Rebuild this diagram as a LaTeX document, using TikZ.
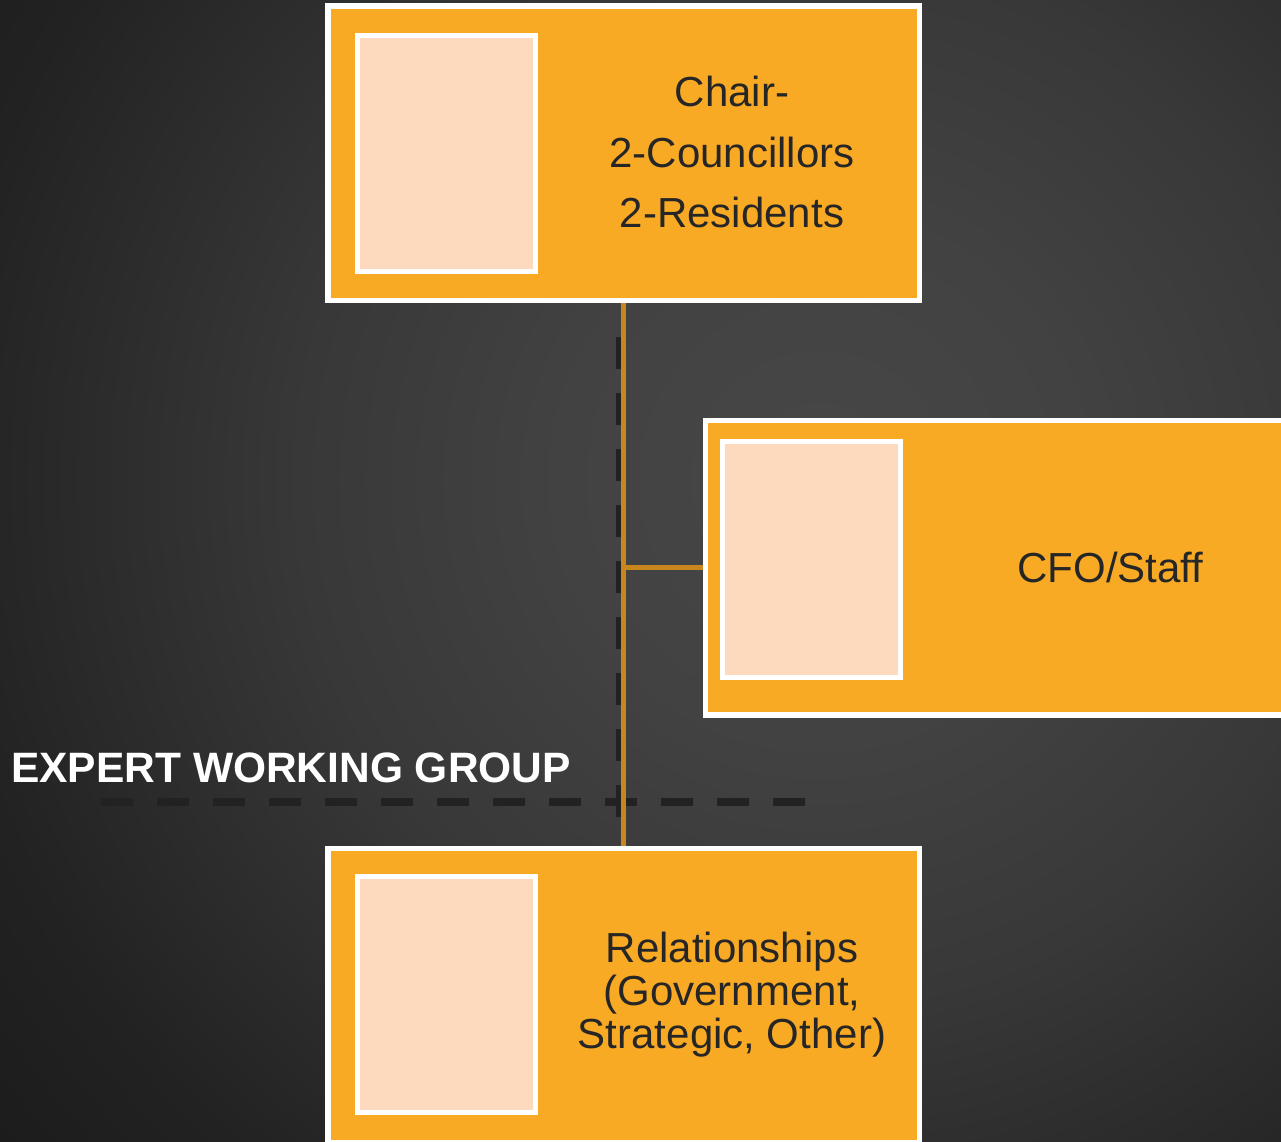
\documentclass[tikz,border=0pt]{standalone}
\usepackage{fontspec}
\setmainfont{Liberation Sans}
\usetikzlibrary{positioning}
\definecolor{boxorange}{HTML}{F9AA25}
\definecolor{photopeach}{HTML}{FDDABD}
\definecolor{linkorange}{HTML}{C8861C}
\definecolor{dashgray}{HTML}{222222}
\definecolor{txtdark}{HTML}{262626}
\definecolor{bgdark}{HTML}{141414}
\definecolor{bgA}{HTML}{474747}
\definecolor{bgB}{HTML}{424242}
\definecolor{bgC}{HTML}{383838}
\definecolor{bgD}{HTML}{222222}
\definecolor{bgE}{HTML}{171717}
\pgfdeclareradialshading{bgglow}{\pgfpoint{0bp}{0bp}}{%
  color(0bp)=(bgA);
  color(5bp)=(bgB);
  color(10bp)=(bgC);
  color(17bp)=(bgD);
  color(23bp)=(bgE);
  color(50bp)=(bgdark)}

\tikzset{
  member/.style={rectangle,draw=white,fill=boxorange,line width=5.5pt,
    inner sep=0pt,minimum width=591.5pt,minimum height=294.5pt},
  photobox/.style={rectangle,draw=white,fill=photopeach,line width=5pt,
    inner sep=0pt,minimum width=178pt,minimum height=236pt},
  roletxt/.style={text=txtdark,align=center,inner sep=0pt,
    font=\fontsize{42}{60.5}\selectfont},
  link/.style={draw=linkorange,line width=5pt},
  groupline/.style={draw=dashgray,line width=8pt,dash pattern=on 32pt off 24pt}
}

\begin{document}
\begin{tikzpicture}[x=1pt,y=-1pt]
\useasboundingbox (0,0) rectangle (1281,1141);
\clip (0,0) rectangle (1281,1141);
% background
\fill[bgdark] (0,0) rectangle (1281,1141);
\shade[shading=bgglow] (820,480) circle (1300);

% expert working group boundary
\coordinate (vtop) at (619.5,337);
\coordinate (vbot) at (619.5,817);
\coordinate (hleft) at (101,802);
\coordinate (hright) at (805,802);
\draw[groupline] (vtop) -- (vbot);
\draw[groupline] (hleft) -- (hright);
\node[anchor=base west,inner sep=0pt,text=white,
  font=\fontsize{42.5}{50}\selectfont\bfseries] (group) at (11,782) {EXPERT WORKING GROUP};

% boxes
\node[member] (chair) at (623.75,153.25) {};
\node[member] (cfo) at (1001.25,567.75) {};
\node[member] (relations) at (623.75,995.75) {};

% links
\draw[link] (chair.south) -- (relations.north);
\draw[link] (cfo.west -| chair.south) -- (cfo.west);
\node[member] at (chair) {};
\node[member] at (cfo) {};
\node[member] at (relations) {};

% photos
\node[photobox] (chairphoto) at (446.5,153.5) {};
\node[photobox] (cfophoto) at (811.5,559.5) {};
\node[photobox] (relphoto) at (446.5,994.5) {};

% texts
\node[roletxt] (chairtxt) at (732,152) {Chair-\\2-Councillors\\2-Residents};
\node[roletxt] (cfotxt) at (1110.5,567) {CFO/Staff};
\node[roletxt,font=\fontsize{42}{43}\selectfont] (reltxt) at (732,995)
  {Relationships\\(Government,\\Strategic, Other)};
\end{tikzpicture}
\end{document}
